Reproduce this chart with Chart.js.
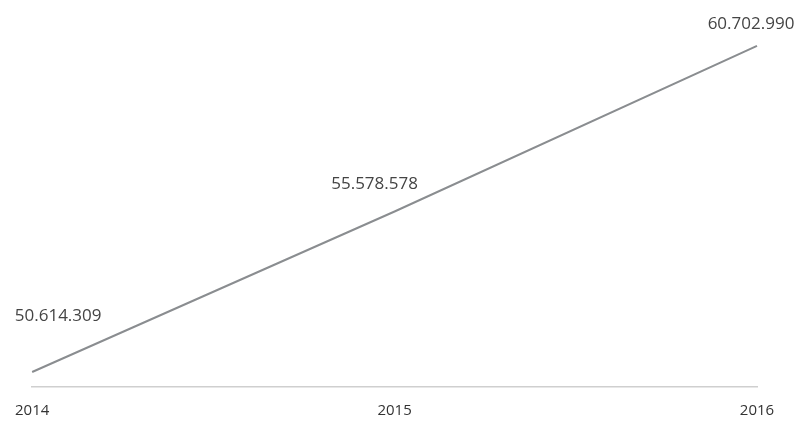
<!DOCTYPE html>
<html>
<head>
<meta charset="utf-8">
<script src="https://cdn.jsdelivr.net/npm/chart.js@4"></script>
<style>
  html, body { margin: 0; padding: 0; background: #fff; }
  #wrap { width: 800px; height: 424px; }
</style>
</head>
<body>
<div id="wrap"><canvas id="lineChart"></canvas></div>
<script>
const years = ["2014", "2015", "2016"];
const values = [50614309, 55578578, 60702990];

// draws the value above each point, de-DE style thousands separator
const valueLabels = {
  id: "valueLabels",
  afterDatasetsDraw(chart, args, opts) {
    const ctx = chart.ctx;
    const meta = chart.getDatasetMeta(0);
    ctx.save();
    ctx.font = "17px 'Open Sans', sans-serif";
    ctx.fillStyle = "#444";
    ctx.textAlign = "center";
    ctx.textBaseline = "middle";
    meta.data.forEach((pt, i) => {
      const off = opts.offsets[i];
      const text = values[i].toLocaleString("de-DE");
      ctx.fillText(text, pt.x + off[0], pt.y + off[1]);
    });
    ctx.restore();
  },
};

const ctx = document.getElementById("lineChart").getContext("2d");
new Chart(ctx, {
  type: "line",
  data: {
    labels: years,
    datasets: [
      {
        data: values,
        borderColor: "#8a8d90",
        borderWidth: 2,
        pointRadius: 0,
        tension: 0,
        fill: false,
      },
    ],
  },
  options: {
    responsive: true,
    maintainAspectRatio: false,
    animation: false,
    layout: { padding: { left: 30, right: 43, top: 10, bottom: -11 } },
    plugins: {
      legend: { display: false },
      tooltip: { enabled: false },
      valueLabels: { offsets: [[26, -56], [-20, -27], [-6, -22]] },
    },
    scales: {
      x: {
        offset: false,
        grid: { display: false, drawTicks: false },
        border: { display: true, color: "#cfcfcf", width: 1.5 },
        ticks: {
          padding: 15,
          color: "#333",
          font: { size: 15, family: "'Open Sans', sans-serif" },
          maxRotation: 0,
        },
      },
      y: {
        display: false,
        min: 50151000,
        max: 61810000,
      },
    },
  },
  plugins: [valueLabels],
});
</script>
</body>
</html>
